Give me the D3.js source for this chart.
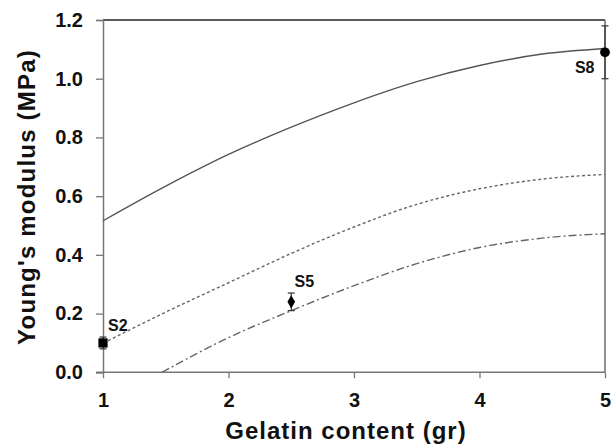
<!DOCTYPE html>
<html>
<head>
<meta charset="utf-8">
<script src="https://cdn.jsdelivr.net/npm/d3@7"></script>
<style>
  html, body { margin: 0; padding: 0; background: #fff; }
  svg { display: block; }
  text { font-family: "Liberation Sans", Arial, sans-serif; font-weight: bold; fill: #111; }
</style>
</head>
<body>
<svg id="chart" width="611" height="446"></svg>
<script>
// Fitted modulus curves, sampled along gelatin content
const gelatin = [1, 1.5, 2, 2.5, 3, 3.5, 4, 4.5, 5];
const fitUpper = [0.516, 0.634, 0.742, 0.835, 0.918, 0.99, 1.045, 1.084, 1.103];
const fitMiddle = [0.099, 0.205, 0.305, 0.405, 0.495, 0.572, 0.625, 0.658, 0.674];
const gelatinLower = [1.47, 2, 2.5, 3, 3.5, 4, 4.5, 5];
const fitLower = [0, 0.118, 0.21, 0.295, 0.37, 0.425, 0.457, 0.472];

// Measured samples with standard deviation
const sampleNames = ["S2", "S5", "S8"];
const sampleGelatin = [1, 2.5, 5];
const sampleModulus = [0.10, 0.24, 1.09];
const sampleError = [0.02, 0.03, 0.09];

const xTicks = [1, 2, 3, 4, 5];
const yTicks = [0, 0.2, 0.4, 0.6, 0.8, 1.0, 1.2];

const svg = d3.select("#chart");
const plotLeft = 103, plotRight = 605, plotTop = 20, plotBottom = 372.3;

const x = d3.scaleLinear().domain([1, 5]).range([plotLeft, plotRight]);
const y = d3.scaleLinear().domain([0, 1.2]).range([plotBottom, plotTop]);

// Frame: top and right borders
svg.append("line").attr("x1", plotLeft).attr("x2", plotRight).attr("y1", plotTop).attr("y2", plotTop)
  .attr("stroke", "#222").attr("stroke-width", 1.3);
svg.append("line").attr("x1", plotRight).attr("x2", plotRight).attr("y1", plotTop).attr("y2", plotBottom)
  .attr("stroke", "#555").attr("stroke-width", 1.3);

// Axes
const yAxis = svg.append("g").attr("transform", `translate(${plotLeft},0)`)
  .call(d3.axisLeft(y).tickValues(yTicks).tickFormat(d3.format(".1f")).tickSize(7).tickPadding(13));
const xAxis = svg.append("g").attr("transform", `translate(0,${plotBottom})`)
  .call(d3.axisBottom(x).tickValues(xTicks).tickFormat(d3.format("d")).tickSize(6).tickPadding(15));

[yAxis, xAxis].forEach(g => {
  g.select(".domain").attr("stroke", "#777").attr("stroke-width", 1.5);
  g.selectAll(".tick line").attr("stroke", "#777").attr("stroke-width", 1.3);
  g.selectAll(".tick text").attr("font-size", 20)
    .attr("font-family", "Liberation Sans, Arial, sans-serif").attr("font-weight", "bold").attr("fill", "#111");
});
// x-axis line reaches the left tick mark
xAxis.select(".domain").attr("d", `M${plotLeft - 7},0H${plotRight}`);

// Curves
const line = d3.line().x(d => x(d[0])).y(d => y(d[1])).curve(d3.curveMonotoneX);
const curves = [
  { xs: gelatin, ys: fitUpper, dash: null, color: "#555" },
  { xs: gelatin, ys: fitMiddle, dash: "3,2.5", color: "#666" },
  { xs: gelatinLower, ys: fitLower, dash: "8,3,2,3", color: "#666" }
];
curves.forEach(c => {
  svg.append("path")
    .datum(c.xs.map((v, i) => [v, c.ys[i]]))
    .attr("d", line)
    .attr("fill", "none")
    .attr("stroke", c.color)
    .attr("stroke-width", 1.4)
    .attr("stroke-dasharray", c.dash);
});

// Error bars
const samples = sampleNames.map((n, i) => ({ name: n, g: sampleGelatin[i], m: sampleModulus[i], e: sampleError[i] }));
const eb = svg.append("g").attr("stroke", "#333").attr("stroke-width", 1.2);
samples.forEach(s => {
  const cx = x(s.g), y1 = y(s.m + s.e), y2 = y(s.m - s.e);
  eb.append("line").attr("x1", cx).attr("x2", cx).attr("y1", y1).attr("y2", y2);
  eb.append("line").attr("x1", cx - 3.5).attr("x2", cx + 3.5).attr("y1", y1).attr("y2", y1);
  eb.append("line").attr("x1", cx - 3.5).attr("x2", cx + 3.5).attr("y1", y2).attr("y2", y2);
});

// Markers
const symbols = [d3.symbolSquare, d3.symbolDiamond, d3.symbolCircle];
const sizes = [85, 50, 75];
samples.forEach((s, i) => {
  svg.append("path")
    .attr("d", d3.symbol().type(symbols[i]).size(sizes[i])())
    .attr("transform", `translate(${x(s.g)},${y(s.m)})`)
    .attr("fill", "#000");
});

// Sample labels
const labelOffsets = [[5, -12, "start"], [13, -14.5, "middle"], [-10.5, 21, "end"]];
samples.forEach((s, i) => {
  svg.append("text")
    .attr("x", x(s.g) + labelOffsets[i][0])
    .attr("y", y(s.m) + labelOffsets[i][1])
    .attr("text-anchor", labelOffsets[i][2])
    .attr("font-size", 16)
    .text(s.name);
});

// Axis titles
svg.append("text")
  .attr("x", (225 + 467) / 2).attr("y", 438.5)
  .attr("text-anchor", "middle").attr("font-size", 24).attr("letter-spacing", 1)
  .text("Gelatin content (gr)");
svg.append("text")
  .attr("transform", "translate(35,197) rotate(-90)")
  .attr("text-anchor", "middle").attr("font-size", 24).attr("letter-spacing", 1.2)
  .text("Young's modulus (MPa)");
</script>
</body>
</html>
